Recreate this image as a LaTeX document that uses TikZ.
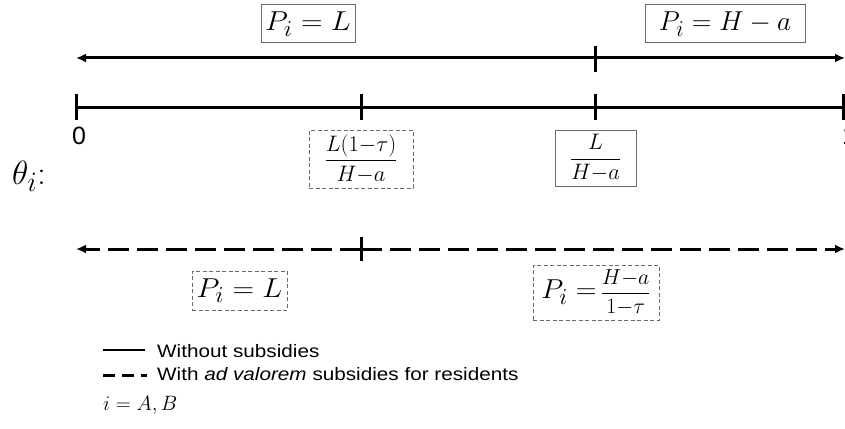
\RequirePackage{fix-cm}
\documentclass[tikz,border=0pt]{standalone}
\usepackage{amsmath}
\usepackage{graphicx}
\usepackage{fontspec}
\setsansfont{Liberation Sans}
\usetikzlibrary{arrows.meta}
\newcommand{\mysizeA}{\fontsize{24.88}{30}\selectfont}
\newcommand{\mysizeF}{\fontsize{20.74}{25}\selectfont}
\newcommand{\mysizeN}{\fontsize{25}{28}\selectfont}
\newcommand{\mysizeL}{\fontsize{18}{20}\selectfont}
\newcommand{\mstretch}[1]{\scalebox{1.2}[1.1]{#1}}
\newcommand{\lstretch}[1]{\scalebox{1.15}[1]{#1}}
\begin{document}
\begin{tikzpicture}[x=1pt,y=-1pt,
  axis/.style={line width=3pt, line cap=butt},
  tickmark/.style={line width=3pt},
  arr/.style={-{Latex[length=10pt,width=9pt]}},
  dashline/.style={dash pattern=on 21pt off 8pt},
  sbox/.style={draw=gray!85!black, line width=1pt, inner sep=0pt},
  dbox/.style={draw=gray!85!black, line width=1pt, inner sep=0pt, dash pattern=on 4pt off 2.5pt},
  lbl/.style={inner sep=0pt}
]
\useasboundingbox (0,0) rectangle (845,428);

% top solid arrows
\coordinate (tk) at (595,58);
\coordinate (tl) at (76,58);
\coordinate (tr) at (845,58);
\draw[axis,arr] (tk) -- (tl);
\draw[axis,arr] (tk) -- (tr);
\draw[tickmark] (595,46) -- (595,72);

\node[sbox, minimum width=94pt, minimum height=38pt] (pL) at (308,24) {\mysizeA\mstretch{$P_i = L$}};
\node[sbox, minimum width=160pt, minimum height=38pt] (pH) at (725,24) {\mysizeA\scalebox{1.1}[1.1]{$P_i = H - a$}};

% axis
\coordinate (a0) at (76,107);
\coordinate (a1) at (843,107);
\draw[axis] (a0) -- (a1);
\foreach \x in {76,361,595,843} \draw[tickmark] (\x,94) -- (\x,120);
\node[lbl, font=\sffamily\mysizeN] (z0) at (79,136) {0};
\node[lbl, font=\sffamily\mysizeN] (z1) at (849,136) {1};

\node[lbl] (theta) at (29,176) {\mysizeA\scalebox{1.35}{$\theta_i$:}};

\node[dbox, minimum width=104pt, minimum height=58pt] (f1) at (361,159)
  {\mysizeF\scalebox{1.08}{$\dfrac{L(1{-}\tau)}{H{-}a}$}};
\node[sbox, minimum width=81pt, minimum height=56pt] (f2) at (595.5,158)
  {\mysizeF\scalebox{1.08}{$\dfrac{L}{H{-}a}$}};

% dashed arrows
\coordinate (dk) at (361,249);
\coordinate (dl) at (76,249);
\coordinate (dr) at (845,249);
\draw[axis,dashline,arr] (dk) -- (dl);
\draw[axis,dashline,arr] (dk) -- (dr);
\draw[tickmark] (361,237) -- (361,261);

\node[dbox, minimum width=95pt, minimum height=39pt] (qL) at (239.5,290.5) {\mysizeA\mstretch{$P_i = L$}};
\node[dbox, minimum width=126pt, minimum height=55pt] (qH) at (596,292.5)
  {\mysizeA\scalebox{1.15}[1.1]{$P_i =$}\,{\mysizeF\scalebox{1.05}{$\dfrac{H{-}a}{1{-}\tau}$}}};

% legend
\coordinate (l1a) at (103,350);
\coordinate (l1b) at (145,350);
\draw[line width=2.2pt] (l1a) -- (l1b);
\node[lbl, anchor=west, font=\sffamily\mysizeL] (t1) at (157,351) {\lstretch{Without subsidies}};
\coordinate (l2a) at (103,375);
\coordinate (l2b) at (147,375);
\draw[line width=3pt, dash pattern=on 12pt off 7pt] (l2a) -- (l2b);
\node[lbl, anchor=west, font=\sffamily\mysizeL] (t2) at (157,374) {\lstretch{With \textit{ad valorem} subsidies for residents}};
\node[lbl, anchor=west] (t3) at (103,405) {\fontsize{20.74}{24}\selectfont$i = A, B$};
\end{tikzpicture}
\end{document}
